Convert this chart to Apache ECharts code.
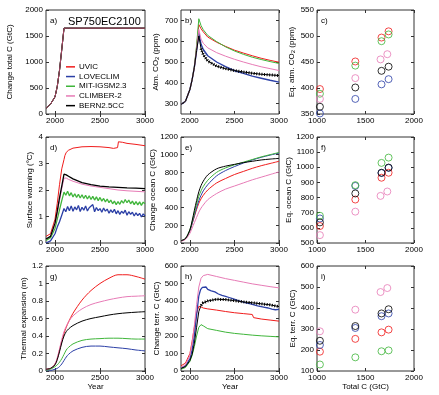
<!DOCTYPE html>
<html><head><meta charset="utf-8">
<script src="https://cdn.jsdelivr.net/npm/echarts@6/dist/echarts.min.js"></script>
<style>html,body{margin:0;padding:0;background:#fff}#c{width:439px;height:395px}</style>
</head><body><div id="c"></div>
<script>
const models = ['UVIC','LOVECLIM','MIT-IGSM2.3','CLIMBER-2','BERN2.5CC'];
const colors = ['#f01c1c','#2b3fa6','#3fb53a','#e77bb6','#000000'];

const years = [1900,1950,2000,2025,2050,2075,2100,2125,2150,2200,2300,2400,2500,2600,2700,2800,2900,3000];
const yearsFine = [1900,1950,2000,2025,2050,2075,2100,2120,2140,2160,2180,2200,2220,2240,2260,2280,2300,2320,2340,2360,2380,2400,2420,2440,2460,2480,2500,2520,2540,2560,2580,2600,2620,2640,2660,2680,2700,2720,2740,2760,2780,2800,2820,2840,2860,2880,2900,2920,2940,2960,2980,3000];

// a) change in total carbon (same for all models)
const totalC = [110,190,330,530,840,1240,1650,1650,1650,1650,1650,1650,1650,1650,1650,1650,1650,1650];

// b) atmospheric CO2 (ppm)
const co2UVIC     = [296,311,368,415,475,570,680,660,645,620,595,575,557,543,530,518,508,499];
const co2LOVECLIM = [296,311,368,415,475,555,640,585,560,530,500,478,458,445,432,422,412,403];
const co2MIT      = [296,311,368,415,478,580,708,675,655,628,598,573,553,537,523,512,502,493];
const co2CLIMBER  = [296,311,368,415,475,565,657,610,590,568,545,528,513,500,488,477,468,459];
const co2BERN     = [296,311,368,415,475,555,625,565,535,505,480,468,459,452,446,441,438,435];

// d) surface warming (degC)
const warmYearsUVIC = [1900,1950,2000,2025,2050,2075,2100,2110,2125,2150,2200,2300,2400,2500,2600,2650,2695,2705,2750,2800,2900,3000];
const warmUVIC      = [0.25,0.35,0.9,1.5,2.2,2.8,3.15,3.3,3.42,3.5,3.58,3.63,3.64,3.63,3.6,3.57,3.6,3.82,3.8,3.76,3.72,3.67];
const warmLOVECLIM  = [0.0,0.08,0.35,0.6,0.8,1.05,
  1.30,1.18,1.38,1.22,1.40,1.20,1.36,1.25,1.42,1.19,
  1.35,1.24,1.40,1.21,1.33,1.26,1.45,1.18,1.34,1.22,
  1.30,1.16,1.32,1.20,1.28,1.12,1.25,1.15,1.27,1.10,
  1.22,1.08,1.20,1.12,1.24,1.05,1.18,1.08,1.16,1.02,
  1.14,1.03,1.12,0.98,1.10,1.02];
const warmMIT       = [0.1,0.2,0.55,0.9,1.25,1.6,
  1.92,1.80,1.95,1.78,1.90,1.74,1.86,1.72,1.84,1.70,
  1.82,1.68,1.80,1.66,1.78,1.64,1.76,1.62,1.74,1.60,
  1.72,1.58,1.68,1.55,1.66,1.52,1.62,1.48,1.58,1.45,
  1.56,1.46,1.60,1.50,1.64,1.52,1.62,1.48,1.58,1.45,
  1.56,1.44,1.55,1.42,1.54,1.48];
const warmCLIMBER   = [0.15,0.25,0.7,1.1,1.6,2.05,2.45,2.45,2.4,2.33,2.22,2.15,2.1,2.05,2.0,1.97,1.95,1.93];
const warmBERN      = [0.15,0.25,0.75,1.2,1.7,2.15,2.6,2.57,2.52,2.42,2.28,2.2,2.15,2.12,2.1,2.08,2.07,2.05];

// e) change in ocean carbon (GtC)
const oceanUVIC     = [25,50,140,220,300,380,450,500,540,600,680,730,775,810,845,875,900,925];
const oceanLOVECLIM = [25,50,140,220,310,400,480,540,590,660,760,820,865,905,940,970,995,1018];
const oceanMIT      = [25,50,150,240,340,440,530,590,640,710,800,850,885,915,945,975,1000,1025];
const oceanCLIMBER  = [20,40,110,170,230,290,350,395,430,490,560,610,645,680,715,745,775,805];
const oceanBERN     = [25,50,150,250,370,480,580,650,700,770,840,870,890,910,925,940,950,958];

// g) thermal expansion (m)
const thermUVIC     = [0.02,0.03,0.08,0.14,0.24,0.34,0.43,0.50,0.56,0.66,0.81,0.92,1.00,1.06,1.10,1.10,1.08,1.05];
const thermLOVECLIM = [0.0,0.005,0.02,0.03,0.05,0.08,0.12,0.16,0.19,0.23,0.27,0.285,0.285,0.275,0.265,0.255,0.24,0.23];
const thermMIT      = [0.01,0.02,0.05,0.07,0.10,0.14,0.19,0.24,0.27,0.31,0.35,0.365,0.37,0.375,0.375,0.37,0.365,0.365];
const thermCLIMBER  = [0.02,0.03,0.08,0.15,0.25,0.36,0.45,0.51,0.56,0.63,0.71,0.76,0.79,0.815,0.835,0.85,0.855,0.86];
const thermBERN     = [0.02,0.03,0.07,0.13,0.22,0.32,0.40,0.45,0.48,0.52,0.57,0.60,0.62,0.64,0.655,0.665,0.672,0.678];

// h) change in terrestrial carbon (GtC)
const terrYearsUVIC = [1900,1950,2000,2025,2050,2075,2100,2125,2150,2200,2300,2400,2500,2600,2700,2715,2800,2900,3000];
const terrUVIC      = [30,45,100,170,250,330,370,366,360,355,348,340,333,328,323,305,297,291,285];
const terrLOVECLIM  = [15,30,70,120,200,320,
  430,465,478,470,480,466,474,458,468,452,
  455,440,448,432,442,426,436,420,428,414,
  422,406,414,400,408,394,402,388,396,384,
  392,378,386,372,382,368,376,364,372,360,
  366,354,362,350,358,352];
const terrMIT       = [10,20,55,90,140,200,250,265,258,242,232,222,215,210,205,201,198,195];
const terrCLIMBER   = [20,35,90,160,260,380,480,530,545,552,540,528,518,508,498,490,482,475];
const terrBERN      = [15,25,60,95,160,250,340,375,390,400,410,408,402,395,390,384,378,368];

// c, f, i) equilibrium values vs total carbon (GtC)
const totalCx        = [1030,1395,1665,1738];
const totalCxCLIMBER = [1030,1395,1655,1725];
const eqCo2UVIC     = [398,451,497,509];
const eqCo2LOVECLIM = [351,379,407,417];
const eqCo2MIT      = [389,443,490,503];
const eqCo2CLIMBER  = [379,419,455,465];
const eqCo2BERN     = [364,401,433,441];
const eqOceanUVIC     = [612,787,931,964];
const eqOceanLOVECLIM = [662,877,962,996];
const eqOceanMIT      = [680,882,1029,1064];
const eqOceanCLIMBER  = [552,707,811,840];
const eqOceanBERN     = [636,827,964,998];
const eqTerrUVIC     = [192,253,284,297];
const eqTerrLOVECLIM = [224,305,361,374];
const eqTerrMIT      = [131,165,194,198];
const eqTerrCLIMBER  = [289,392,476,495];
const eqTerrBERN     = [244,314,374,394];

const timeTicks = [2000,2500,3000];
const FONT = 'Liberation Sans';
const AX = '#333';

const panels = [
  {g:[46,10,99,104],  x:{min:1900,max:3000,custom:timeTicks}, y:{min:0,max:2000,interval:500}, yName:'Change total C (GtC)', gap:32, letter:'a)'},
  {g:[181,10,98,104], x:{min:1900,max:3000,custom:timeTicks}, y:{min:250,max:750,custom:[300,400,500,600,700]}, yName:'Atm. CO{s|2} (ppm)', gap:20, letter:'b)'},
  {g:[317,10,97,104], x:{min:1000,max:2000,interval:500}, y:{min:350,max:550,interval:50}, yName:'Eq. atm. CO{s|2} (ppm)', gap:19, letter:'c)'},
  {g:[46,137,99,106], x:{min:1900,max:3000,custom:timeTicks}, y:{min:0,max:4,interval:1}, yName:'Surface warming (°C)', gap:12, letter:'d)'},
  {g:[181,137,98,106],x:{min:1900,max:3000,custom:timeTicks}, y:{min:0,max:1200,interval:200}, yName:'Change ocean C (GtC)', gap:21, letter:'e)'},
  {g:[317,137,97,106],x:{min:1000,max:2000,interval:500}, y:{min:500,max:1200,interval:100}, yName:'Eq. ocean C (GtC)', gap:21, letter:'f)'},
  {g:[46,266,99,105], x:{min:1900,max:3000,custom:timeTicks,name:'Year'}, y:{min:0,max:1.2,interval:0.2}, yName:'Thermal expansion (m)', gap:16, letter:'g)'},
  {g:[181,266,98,105],x:{min:1900,max:3000,custom:timeTicks,name:'Year'}, y:{min:0,max:600,interval:100}, yName:'Change terr. C (GtC)', gap:19, letter:'h)'},
  {g:[317,266,97,105],x:{min:1000,max:2000,interval:500,name:'Total C (GtC)'}, y:{min:100,max:600,interval:100}, yName:'Eq. terr. C (GtC)', gap:19, letter:'i)'}
];

const grid = [], xAxis = [], yAxis = [], series = [], graphic = [];

function fmt(v) { return String(+(+v).toFixed(6)); }

function mkAxis(spec, gi, pos, main, name, gap) {
  const a = {
    type:'value', gridIndex:gi, position:pos, min:spec.min, max:spec.max,
    splitLine:{show:false}, axisLine:{show:false},
    axisTick:{show:true, inside:true, length:3, lineStyle:{color:AX, width:1}},
    axisLabel:{show:main, fontSize:8, color:'#000', fontFamily:FONT, margin:3, formatter:fmt}
  };
  if (spec.custom) { a.axisTick.customValues = spec.custom; a.axisLabel.customValues = spec.custom; }
  else a.interval = spec.interval;
  if (main && name) {
    a.name = name; a.nameLocation = 'middle'; a.nameGap = gap;
    a.nameTextStyle = {fontSize:8, color:'#000', fontFamily:FONT,
      rich:{s:{fontSize:6, fontFamily:FONT, color:'#000', padding:[0,0,-3,0]}}};
  }
  return a;
}

panels.forEach((p, i) => {
  grid.push({left:p.g[0], top:p.g[1], width:p.g[2], height:p.g[3], show:true, borderColor:AX, borderWidth:1, backgroundColor:'transparent', containLabel:false});
  xAxis.push(mkAxis(p.x, i, 'bottom', true, p.x.name, 11));
  xAxis.push(mkAxis(p.x, i, 'top', false));
  yAxis.push(mkAxis(p.y, i, 'left', true, p.yName, p.gap));
  yAxis.push(mkAxis(p.y, i, 'right', false));
  graphic.push({type:'text', left:p.g[0]+4, top:p.g[1]+7, style:{text:p.letter, font:'8px '+FONT, fill:'#000'}});
});
graphic.push({type:'text', left:68, top:16, style:{text:'SP750EC2100', font:'11px '+FONT, fill:'#000'}});

function pairs(xs, ys) { return ys.map((v, k) => [xs[k], v]); }
function line(gi, m, xs, ys, extra) {
  series.push(Object.assign({
    type:'line', name:models[m], xAxisIndex:2*gi, yAxisIndex:2*gi, data:pairs(xs, ys),
    showSymbol:false, symbol:'none', smooth:false, clip:true, silent:true,
    lineStyle:{color:colors[m], width:1}, itemStyle:{color:colors[m]}
  }, extra || {}));
}
function dotted(gi, xs, ys) {
  series.push({type:'line', name:models[4], xAxisIndex:2*gi, yAxisIndex:2*gi, data:pairs(xs, ys),
    showSymbol:false, symbol:'none', silent:true, clip:true,
    lineStyle:{color:'#000', width:3, type:[1,1.6]}, itemStyle:{color:'#000'}});
}
function scat(gi, m, xs, ys) {
  series.push({type:'scatter', name:models[m], xAxisIndex:2*gi, yAxisIndex:2*gi, data:pairs(xs, ys),
    symbol:'circle', symbolSize:7, clip:false, silent:true,
    itemStyle:{color:'rgba(0,0,0,0)', borderColor:colors[m], borderWidth:1}});
}

// a
[0,1,2,4,3].forEach(m => line(0, m, years, totalC, m === 3 ? {lineStyle:{color:'#b04a6a', width:1}} : {}));
// b
line(1,0,years,co2UVIC); line(1,1,years,co2LOVECLIM,{lineStyle:{color:colors[1],width:1.4}}); line(1,2,years,co2MIT); line(1,3,years,co2CLIMBER);
line(1,4,years,co2BERN); dotted(1, years.slice(7), co2BERN.slice(7));
// c
scat(2,0,totalCx,eqCo2UVIC); scat(2,1,totalCx,eqCo2LOVECLIM); scat(2,2,totalCx,eqCo2MIT); scat(2,3,totalCxCLIMBER,eqCo2CLIMBER); scat(2,4,totalCx,eqCo2BERN);
// d
line(3,0,warmYearsUVIC,warmUVIC); line(3,1,yearsFine,warmLOVECLIM,{lineStyle:{color:colors[1],width:1.3}});
line(3,2,yearsFine,warmMIT,{lineStyle:{color:colors[2],width:1.3}}); line(3,3,years,warmCLIMBER); line(3,4,years,warmBERN,{lineStyle:{color:'#000',width:1.3}});
// e
line(4,0,years,oceanUVIC,{smooth:0.3}); line(4,1,years,oceanLOVECLIM,{smooth:0.3}); line(4,2,years,oceanMIT,{smooth:0.3}); line(4,3,years,oceanCLIMBER,{smooth:0.3}); line(4,4,years,oceanBERN,{smooth:0.3});
// f
scat(5,1,totalCx,eqOceanLOVECLIM); scat(5,0,totalCx,eqOceanUVIC); scat(5,2,totalCx,eqOceanMIT); scat(5,3,totalCxCLIMBER,eqOceanCLIMBER); scat(5,4,totalCx,eqOceanBERN);
// g
line(6,0,years,thermUVIC,{smooth:0.3}); line(6,1,years,thermLOVECLIM,{smooth:0.3}); line(6,2,years,thermMIT,{smooth:0.3}); line(6,3,years,thermCLIMBER,{smooth:0.3}); line(6,4,years,thermBERN,{smooth:0.3});
// h
line(7,0,terrYearsUVIC,terrUVIC); line(7,1,yearsFine,terrLOVECLIM,{lineStyle:{color:colors[1],width:1.3}}); line(7,2,years,terrMIT); line(7,3,years,terrCLIMBER);
line(7,4,years,terrBERN); dotted(7, years.slice(7), terrBERN.slice(7));
// i
scat(8,0,totalCx,eqTerrUVIC); scat(8,1,totalCx,eqTerrLOVECLIM); scat(8,2,totalCx,eqTerrMIT); scat(8,3,totalCxCLIMBER,eqTerrCLIMBER); scat(8,4,totalCx,eqTerrBERN);

const chart = echarts.init(document.getElementById('c'), null, {renderer:'canvas'});
chart.setOption({
  animation:false,
  backgroundColor:'#fff',
  grid, xAxis, yAxis, series, graphic,
  legend:{data:models, orient:'vertical', left:66, top:62, padding:0, itemGap:0, itemWidth:9, itemHeight:1.5,
    icon:'rect', selectedMode:false, textStyle:{fontSize:8, fontFamily:FONT, color:'#000', lineHeight:9.7, padding:[0,0,0,-1]}}
});
</script></body></html>
